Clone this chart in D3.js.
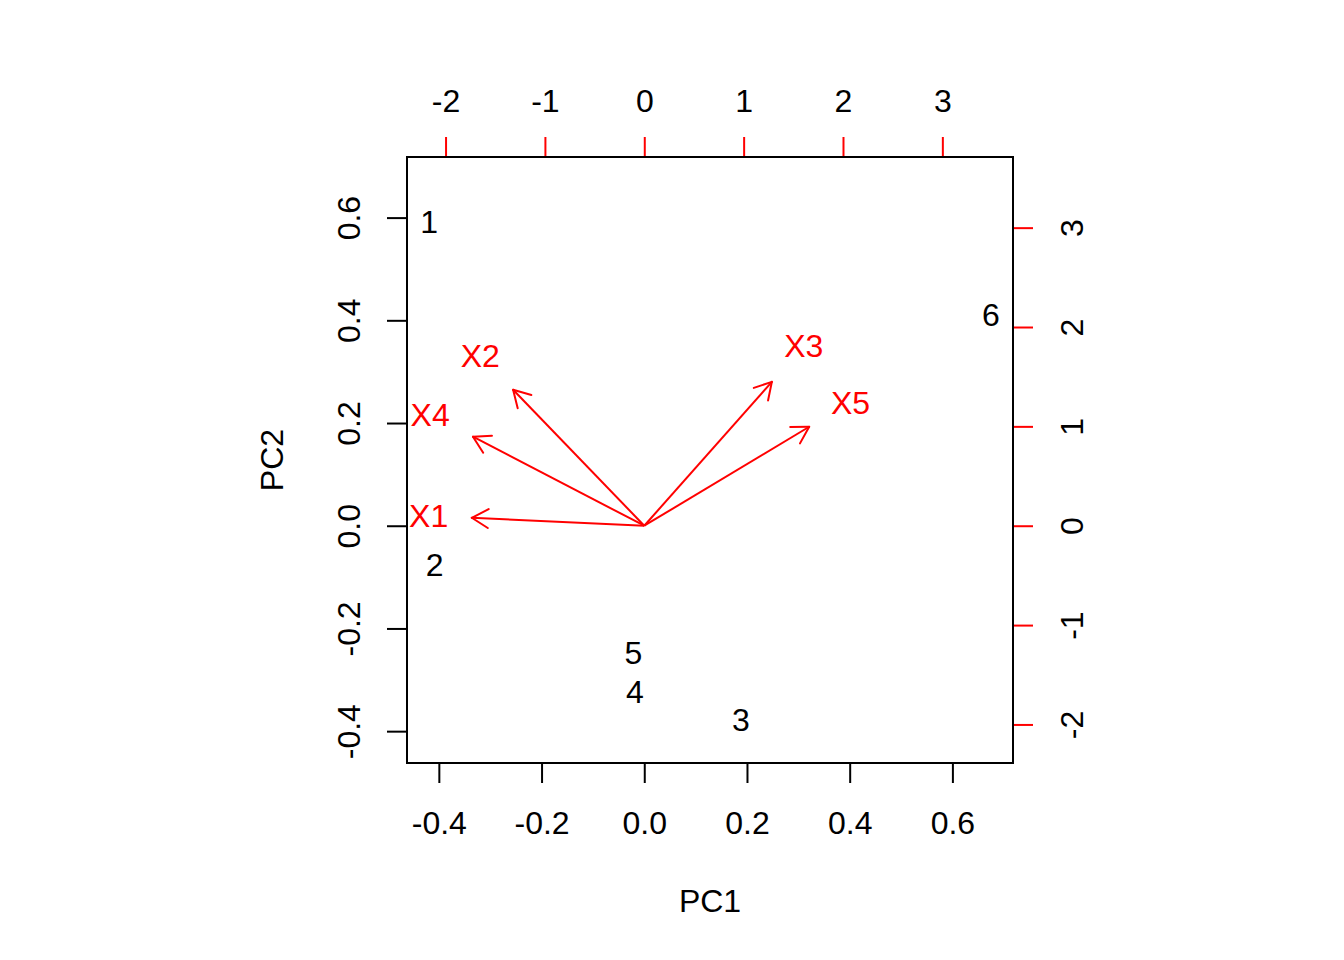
<!DOCTYPE html>
<html>
<head>
<meta charset="utf-8">
<script src="https://cdn.jsdelivr.net/npm/d3@7"></script>
<style>
body { margin: 0; background: #fff; }
text { font-family: "Liberation Sans", Arial, sans-serif; }
</style>
</head>
<body>
<svg id="chart" width="1344" height="960"></svg>
<script>
// observation scores (bottom / left axes)
var obsLabels = ["1", "2", "3", "4", "5", "6"]
var pc1Scores = [-0.419, -0.408, 0.188, -0.018, -0.021, 0.675]
var pc2Scores = [0.592, -0.075, -0.377, -0.323, -0.246, 0.411]

// variable loadings (top / right axes)
var varNames = ["X1", "X2", "X3", "X4", "X5"]
var pc1Loadings = [-2.17, -1.65, 1.605, -2.155, 2.075]
var pc2Loadings = [0.10, 1.71, 1.81, 1.12, 1.245]

var scoreTicks = [-0.4, -0.2, 0.0, 0.2, 0.4, 0.6]
var loadingTicks = [-2, -1, 0, 1, 2, 3]

// plot box (window.top is reserved, so no plain "top")
var boxL = 407, boxR = 1013, boxT = 157, boxB = 763
var fs = 32

var svg = d3.select("#chart")

var x = d3.scaleLinear().domain([-0.462, 0.718]).range([boxL, boxR])
var y = d3.scaleLinear().domain([-0.462, 0.718]).range([boxB, boxT])
var xTop = d3.scaleLinear().domain([-2.388, 3.711]).range([boxL, boxR])
var yRight = d3.scaleLinear().domain([-2.388, 3.711]).range([boxB, boxT])

var styleAxis = function(g, colour)
{
    g.select(".domain").remove()
    g.selectAll(".tick line").attr("stroke", colour).attr("stroke-width", 2)
    g.selectAll(".tick text")
        .attr("fill", "#000")
        .style("font-size", fs + "px")
        .style("font-family", "'Liberation Sans', Arial, sans-serif")
}

// bottom
var gb = svg.append("g").attr("transform", "translate(0," + boxB + ")")
    .call(d3.axisBottom(x).tickValues(scoreTicks).tickSize(20)
        .tickFormat(function(d) { return d.toFixed(1) }))
styleAxis(gb, "#000")
gb.selectAll(".tick text").attr("y", 71).attr("dy", 0)

// left
var gl = svg.append("g").attr("transform", "translate(" + boxL + ",0)")
    .call(d3.axisLeft(y).tickValues(scoreTicks).tickSize(20)
        .tickFormat(function(d) { return d.toFixed(1) }))
styleAxis(gl, "#000")
gl.selectAll(".tick text")
    .attr("x", 0).attr("y", 0).attr("dy", 0)
    .attr("text-anchor", "middle")
    .attr("transform", "translate(-47,0) rotate(-90)")

// top
var gt = svg.append("g").attr("transform", "translate(0," + boxT + ")")
    .call(d3.axisTop(xTop).tickValues(loadingTicks).tickSize(20)
        .tickFormat(function(d) { return String(d) }))
styleAxis(gt, "#ff0000")
gt.selectAll(".tick text").attr("y", -45).attr("dy", 0)

// right
var gr = svg.append("g").attr("transform", "translate(" + boxR + ",0)")
    .call(d3.axisRight(yRight).tickValues(loadingTicks).tickSize(20)
        .tickFormat(function(d) { return String(d) }))
styleAxis(gr, "#ff0000")
gr.selectAll(".tick text")
    .attr("x", 0).attr("y", 0).attr("dy", 0)
    .attr("text-anchor", "middle")
    .attr("transform", "translate(70,0) rotate(-90)")

// axis titles
svg.append("text")
    .attr("x", (boxL + boxR) / 2).attr("y", 912)
    .attr("text-anchor", "middle")
    .style("font-size", fs + "px")
    .text("PC1")
svg.append("text")
    .attr("text-anchor", "middle")
    .attr("transform", "translate(283," + (boxT + boxB) / 2 + ") rotate(-90)")
    .style("font-size", fs + "px")
    .text("PC2")

// observation labels
svg.append("g").selectAll("text")
    .data(obsLabels)
    .enter()
    .append("text")
    .attr("x", function(d, i) { return x(pc1Scores[i]) })
    .attr("y", function(d, i) { return y(pc2Scores[i]) })
    .attr("dy", "0.36em")
    .attr("text-anchor", "middle")
    .style("font-size", fs + "px")
    .text(function(d) { return d })

// arrows to 0.8 * loadings, like R's biplot
var arrowG = svg.append("g")
var x0 = xTop(0), y0 = yRight(0)
varNames.forEach(function(name, i)
{
    var tx = xTop(0.8 * pc1Loadings[i])
    var ty = yRight(0.8 * pc2Loadings[i])
    arrowG.append("line")
        .attr("x1", x0).attr("y1", y0).attr("x2", tx).attr("y2", ty)
        .attr("stroke", "#ff0000").attr("stroke-width", 2)
    var ang = Math.atan2(ty - y0, tx - x0)
    var len = 19
    ;[-Math.PI / 6, Math.PI / 6].forEach(function(a)
    {
        arrowG.append("line")
            .attr("x1", tx).attr("y1", ty)
            .attr("x2", tx - len * Math.cos(ang + a))
            .attr("y2", ty - len * Math.sin(ang + a))
            .attr("stroke", "#ff0000").attr("stroke-width", 2)
            .attr("stroke-linecap", "round")
    })
})

// variable labels
svg.append("g").selectAll("text")
    .data(varNames)
    .enter()
    .append("text")
    .attr("x", function(d, i) { return xTop(pc1Loadings[i]) })
    .attr("y", function(d, i) { return yRight(pc2Loadings[i]) })
    .attr("dy", "0.36em")
    .attr("text-anchor", "middle")
    .attr("fill", "#ff0000")
    .style("font-size", fs + "px")
    .text(function(d) { return d })

// box
svg.append("rect")
    .attr("x", boxL).attr("y", boxT)
    .attr("width", boxR - boxL).attr("height", boxB - boxT)
    .attr("fill", "none").attr("stroke", "#000").attr("stroke-width", 2)
</script>
</body>
</html>
